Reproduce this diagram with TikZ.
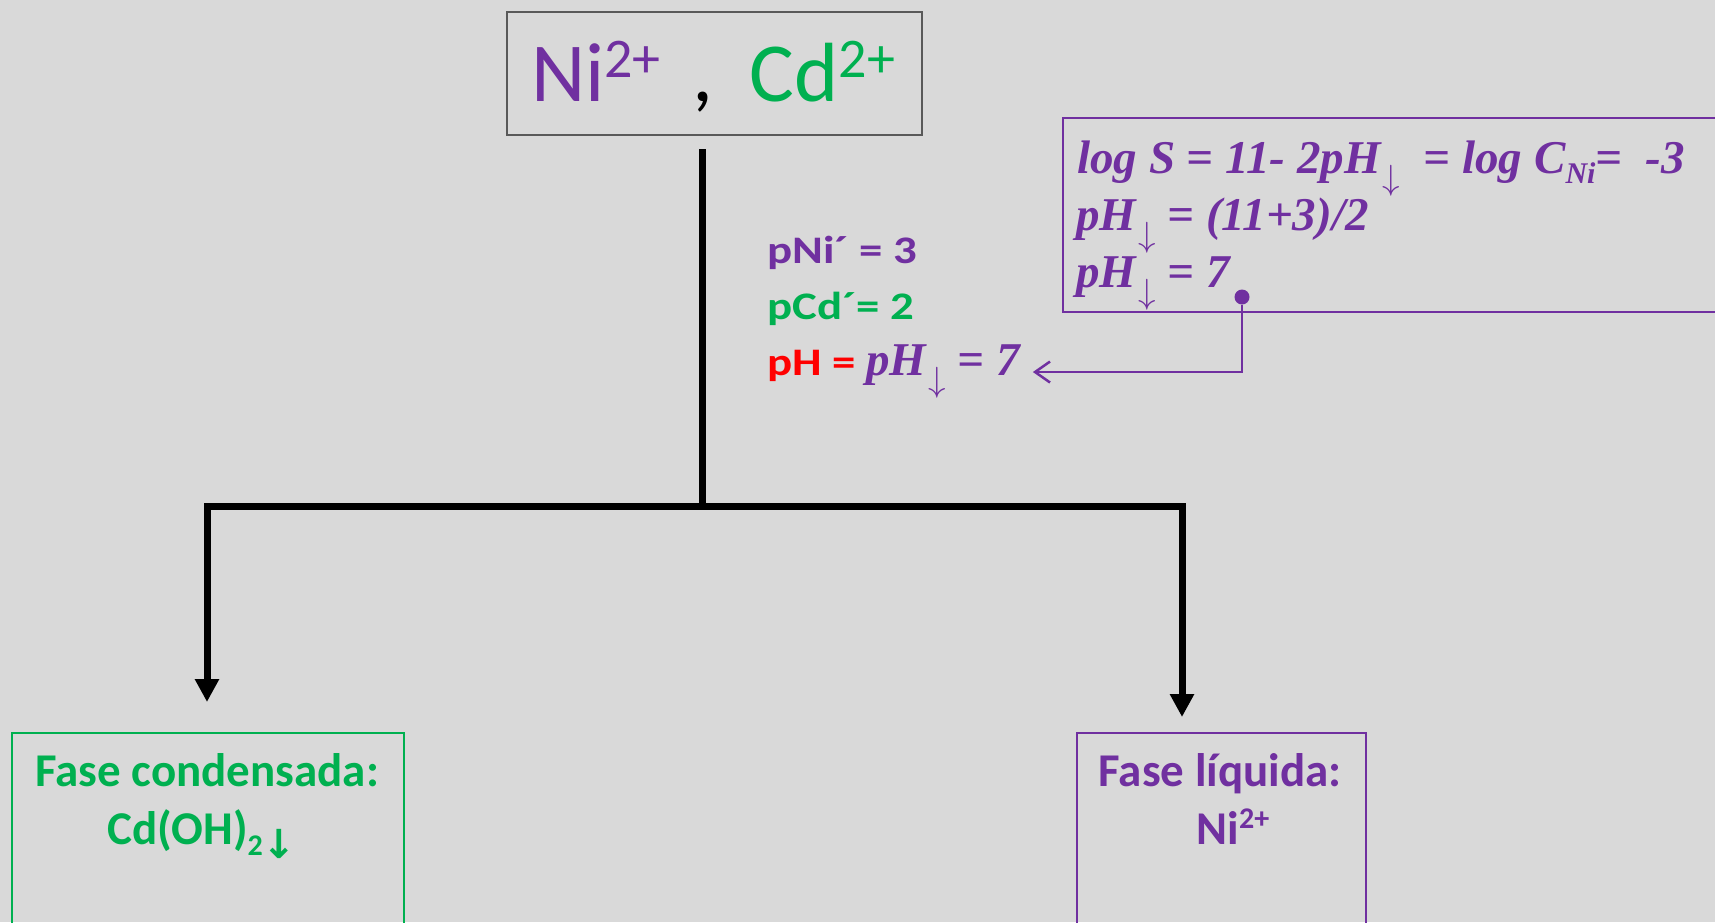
\documentclass[tikz,border=0pt]{standalone}
\usepackage{fontspec}
\usepackage{graphicx}
\setmainfont{Carlito}
\newfontfamily\widefont[FakeStretch=1.2]{Carlito}
\newfontfamily\eqfont{Liberation Serif}
\newfontfamily\arrowbold{DejaVu Sans}
\usetikzlibrary{arrows.meta,positioning}
\definecolor{Slide}{HTML}{D9D9D9}
\definecolor{Plum}{HTML}{7030A0}
\definecolor{Leaf}{HTML}{00B050}
\definecolor{Alarm}{HTML}{FF0000}
\definecolor{Frame}{HTML}{595959}
% small pieces of the formulas
\newcommand{\charge}[2]{\raisebox{#2}{\fontsize{#1}{#1}\selectfont 2+}}
\newcommand{\dn}{\hspace{2pt}\raisebox{-16pt}{\scalebox{3.5}{\fontsize{10}{10}\selectfont$\downarrow$}}}
\newcommand{\lowsub}[1]{\raisebox{-10pt}{\fontsize{30}{30}\selectfont #1}}

\begin{document}
\begin{tikzpicture}[x=1pt,y=-1pt,
    tree/.style={black,line width=7pt},
    eqline/.style={anchor=base west,inner sep=0pt,text=Plum,font=\fontsize{47}{56}\eqfont\bfseries\itshape},
    sidenote/.style={anchor=base west,inner sep=0pt,font=\fontsize{39}{46}\widefont\bfseries},
    phase/.style={anchor=base,inner sep=0pt,font=\fontsize{47}{56}\selectfont\bfseries},
    phasebox/.style={anchor=north,line width=2pt,minimum height=220pt,inner sep=0pt}]
    \fill[Slide] (0,0) rectangle (1715,922);
    \useasboundingbox (0,0) rectangle (1715,922);

    % top: the two ions
    \node[draw=Frame,line width=2pt,minimum width=415pt,minimum height=123pt,inner sep=0pt] (ions) at (714.5,73.5) {};
    \node[anchor=base,inner sep=0pt,font=\fontsize{84}{100}\selectfont] (ionstext) at (713,101)
      {\textcolor{Plum}{Ni\charge{56}{24pt}}\hspace{32pt},\hspace{36pt}\textcolor{Leaf}{Cd\charge{56}{24pt}}};

    % tree
    \coordinate (split) at (702,506);
    \coordinate (leftend) at (207,702);
    \coordinate (rightend) at (1182,717);
    \draw[tree] ([xshift=-12.5pt,yshift=-13pt]ions.south) -- (split);
    \draw[tree,-{Triangle[length=23pt,width=23pt]}] (split) -| (leftend);
    \draw[tree,-{Triangle[length=23pt,width=23pt]}] (split) -| (rightend);

    % conditions beside the stem
    \node[sidenote,text=Plum] (pni) at (767,263) {pNi´ = 3};
    \node[sidenote,text=Leaf] (pcd) at (767,319) {pCd´= 2};
    \node[sidenote,text=Alarm] (phrule) at (767,375)
      {pH = {\fontsize{47}{56}\eqfont\bfseries\itshape\color{Plum}pH\dn\ = 7}};

    % solubility box
    \node[draw=Plum,line width=2pt,anchor=north west,minimum width=700pt,minimum height=194pt,inner sep=0pt] (infobox) at (1062,117) {};
    \node[eqline] (logline) at (1077,173) {log S = 11- 2pH\dn\ \ = log C\lowsub{Ni}=\ \ -3};
    \node[eqline] (phcalc) at (1076,230) {pH\dn\ = (11+3)/2};
    \node[eqline] (phseven) at (1076,287) {pH\dn\ = 7};
    \node[circle,fill=Plum,inner sep=0pt,minimum size=15pt] (dot) at (1242,297) {};
    \draw[Plum,line width=2.5pt,-{Straight Barb[length=15pt,width=21pt]}] (dot) |- ([xshift=13pt,yshift=-1pt]phrule.east);

    % the two phases
    \node[phasebox,draw=Leaf,minimum width=392pt] (condbox) at (208,732) {};
    \node[phase,text=Leaf] (condtitle) at (207,786) {Fase condensada:};
    \node[phase,text=Leaf] (condsolid) at (202,844)
      {Cd(OH)\raisebox{-11pt}{\fontsize{30}{30}\selectfont 2}\raisebox{-14pt}{\fontsize{40}{40}\arrowbold\bfseries ↓}};

    \node[phasebox,draw=Plum,minimum width=289pt] (liqbox) at (1221.5,732) {};
    \node[phase,text=Plum] (liqtitle) at (1220,786) {Fase líquida:};
    \node[phase,text=Plum] (liqion) at (1233,844) {Ni\charge{30}{16pt}};
\end{tikzpicture}
\end{document}
